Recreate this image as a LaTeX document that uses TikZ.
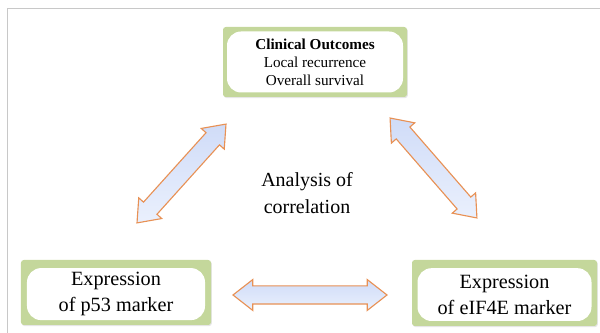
\documentclass[tikz,border=0pt]{standalone}
\usepackage{fontspec}
\setmainfont{Liberation Serif}
\usetikzlibrary{shapes.arrows,shadows}

\definecolor{boxgreen}{RGB}{196,215,155}
\definecolor{arrowedge}{RGB}{232,145,85}
\definecolor{arrowtop}{RGB}{208,220,248}
\definecolor{arrowbottom}{RGB}{234,240,253}
\definecolor{framegray}{RGB}{200,200,200}

\begin{document}
\begin{tikzpicture}[outer/.style={fill=boxgreen,rounded corners=2pt,inner sep=0pt,
                      drop shadow={opacity=0.2,shadow xshift=0.6pt,shadow yshift=-0.8pt}},
                    inner/.style={fill=white,rounded corners=10pt,inner sep=0pt,align=center},
                    link/.style={double arrow,draw=arrowedge,line width=0.8pt,
                      top color=arrowtop,bottom color=arrowbottom,
                      inner xsep=0pt,inner ysep=0.2125cm,
                      double arrow head extend=0.16cm,double arrow tip angle=76}]
  \path[use as bounding box] (0,0) rectangle (15,8.325);
  \draw[framegray,line width=0.6pt] (0.175,0) -- (0.175,8.125) -- (15,8.125);

  % the three boxes
  \node[outer,minimum width=4.6cm,minimum height=1.75cm] (outcomebg) at (7.875,6.775) {};
  \node[inner,minimum width=4.4cm,minimum height=1.525cm,font=\fontsize{10.8}{12.8}\selectfont]
    (outcome) at (outcomebg) {\textbf{Clinical Outcomes}\\Local recurrence\\Overall survival};

  \node[outer,minimum width=4.75cm,minimum height=1.625cm] (p53bg) at (2.9,1.0125) {};
  \node[inner,minimum width=4.45cm,minimum height=1.3cm,font=\fontsize{14.4}{18.4}\selectfont]
    (p53) at ([yshift=-0.04cm]p53bg) {Expression\\of p53 marker};

  \node[outer,minimum width=4.625cm,minimum height=1.65cm] (eifbg) at (12.6125,1.0) {};
  \node[inner,minimum width=4.35cm,minimum height=1.32cm,font=\fontsize{14.4}{18.4}\selectfont]
    (eif) at ([yshift=-0.04cm]eifbg) {Expression\\of eIF4E marker};

  \node[align=center,font=\fontsize{14.2}{19.1}\selectfont] (analysis) at (7.675,3.5)
    {Analysis of\\correlation};

  % double arrows
  \node[link,minimum height=3.325cm,rotate=48] (leftlink) at (4.5375,3.9875) {};
  \node[link,minimum height=3.31cm,rotate=-49] (rightlink) at (10.8375,4.125) {};
  \node[link,minimum height=3.85cm] (bottomlink) at (7.75,0.95) {};
\end{tikzpicture}
\end{document}
